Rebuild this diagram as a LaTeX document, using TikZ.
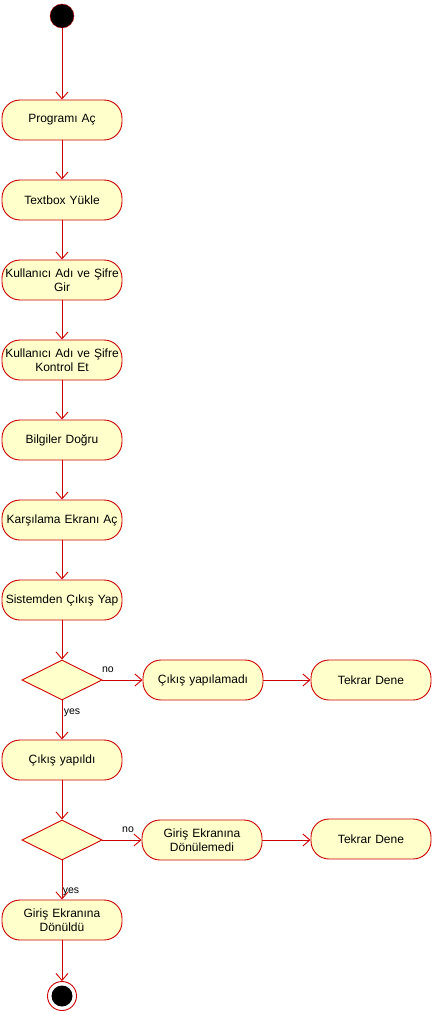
\documentclass[tikz,border=0pt]{standalone}
\usepackage{fontspec}
\setmainfont{Liberation Sans}
\usetikzlibrary{arrows.meta,shapes.geometric}
\definecolor{umlfill}{RGB}{255,255,204}
\definecolor{umlline}{RGB}{204,0,0}
\begin{document}
\begin{tikzpicture}[x=1pt,y=-1pt,
  font=\fontsize{12}{14}\selectfont,
  act/.style={draw=umlline, line width=0.9pt, fill=umlfill, rounded corners=18pt, minimum width=120pt, minimum height=40pt, inner sep=0pt, align=center, text width=120pt},
  dec/.style={draw=umlline, line width=0.9pt, fill=umlfill, diamond, minimum width=80pt, minimum height=40pt, inner sep=0pt, aspect=2},
  flow/.style={draw=umlline, line width=0.9pt, -{Straight Barb[length=7pt,width=12pt]}},
  lbl/.style={font=\fontsize{10.5}{12}\selectfont, inner sep=1pt}]
\useasboundingbox (0,0) rectangle (432,1014);
\node[circle, fill=black, draw=umlline, minimum size=24pt, inner sep=0pt] (start) at (62,16) {};
\node[act] (a1) at (62,120) {Programı Aç};
\node[act] (a2) at (62,200) {Textbox Yükle};
\node[act] (a3) at (62,280) {Kullanıcı Adı ve Şifre\\Gir};
\node[act] (a4) at (62,360) {Kullanıcı Adı ve Şifre\\Kontrol Et};
\node[act] (a5) at (62,440) {Bilgiler Doğru};
\node[act] (a6) at (62,520) {Karşılama Ekranı Aç};
\node[act] (a7) at (62,600) {Sistemden Çıkış Yap};
\node[dec] (d1) at (62,680) {};
\node[act] (n1) at (203,680) {Çıkış yapılamadı};
\node[act] (t1) at (371,680) {Tekrar Dene};
\node[act] (a8) at (62,760) {Çıkış yapıldı};
\node[dec] (d2) at (62,840) {};
\node[act] (n2) at (202,840) {Giriş Ekranına\\Dönülemedi};
\node[act] (t2) at (371,839) {Tekrar Dene};
\node[act] (a9) at (62,920) {Giriş Ekranına\\Dönüldü};
\node[circle, draw=umlline, line width=0.9pt, fill=white, minimum size=29pt, inner sep=0pt] (end) at (62,996) {};
\node[circle, fill=black, minimum size=21pt, inner sep=0pt] (endin) at (62,996) {};
\draw[flow] (start) -- (a1);
\draw[flow] (a1) -- (a2);
\draw[flow] (a2) -- (a3);
\draw[flow] (a3) -- (a4);
\draw[flow] (a4) -- (a5);
\draw[flow] (a5) -- (a6);
\draw[flow] (a6) -- (a7);
\draw[flow] (a7) -- (d1);
\draw[flow] (d1) -- (n1);
\draw[flow] (n1) -- (t1);
\draw[flow] (d1) -- (a8);
\draw[flow] (a8) -- (d2);
\draw[flow] (d2) -- (n2);
\draw[flow] (n2) -- (t2.west |- n2);
\draw[flow] (d2) -- (a9);
\draw[flow] (a9) -- (end);
\node[lbl] (no1) at (108,670) {no};
\node[lbl] (yes1) at (72,713) {yes};
\node[lbl] (no2) at (128,830) {no};
\node[lbl] (yes2) at (71,892) {yes};
\end{tikzpicture}
\end{document}
